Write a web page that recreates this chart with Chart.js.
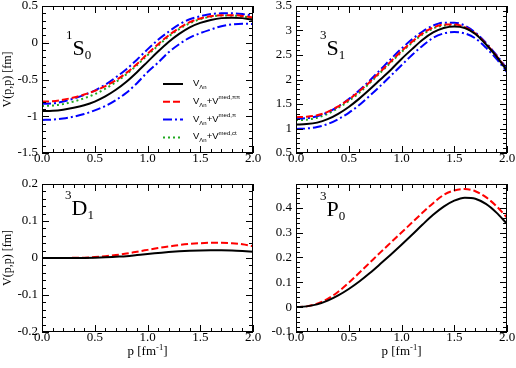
<!DOCTYPE html>
<html>
<head>
<meta charset="utf-8">
<script src="https://cdn.jsdelivr.net/npm/chart.js@4/dist/chart.umd.min.js"></script>
<style>
  html, body { margin: 0; padding: 0; background: #fff; }
  #wrap { position: relative; width: 516px; height: 368px; }
  canvas { position: absolute; left: 0; top: 0; }
</style>
</head>
<body>
<div id="wrap">
  <canvas id="c1" width="516" height="368"></canvas>
  <canvas id="c2" width="516" height="368"></canvas>
  <canvas id="c3" width="516" height="368"></canvas>
  <canvas id="c4" width="516" height="368"></canvas>
</div>
<script>
// momentum grid p [fm^-1]
const pValues = [0.0, 0.1, 0.2, 0.3, 0.4, 0.5, 0.6, 0.7, 0.8, 0.9, 1.0,
                 1.1, 1.2, 1.3, 1.4, 1.5, 1.6, 1.7, 1.8, 1.9, 2.0];

// 1S0
const s0Bare = [-0.93, -0.925, -0.91, -0.885, -0.85, -0.80, -0.73, -0.64, -0.53, -0.40, -0.26,
                -0.12, 0.01, 0.12, 0.21, 0.27, 0.31, 0.335, 0.34, 0.335, 0.31];
const s0PiPi = [-0.80, -0.795, -0.775, -0.745, -0.705, -0.655, -0.59, -0.51, -0.41, -0.29, -0.15,
                -0.02, 0.10, 0.20, 0.28, 0.33, 0.36, 0.375, 0.375, 0.365, 0.34];
const s0Pi   = [-0.83, -0.825, -0.80, -0.76, -0.71, -0.65, -0.57, -0.47, -0.36, -0.23, -0.09,
                0.04, 0.15, 0.25, 0.32, 0.36, 0.39, 0.40, 0.40, 0.39, 0.37];
const s0PiB  = [-1.05, -1.045, -1.03, -1.005, -0.97, -0.92, -0.86, -0.78, -0.68, -0.55, -0.40,
                -0.27, -0.13, -0.02, 0.07, 0.13, 0.18, 0.225, 0.25, 0.26, 0.255];
const s0Ct   = [-0.86, -0.855, -0.835, -0.80, -0.755, -0.70, -0.625, -0.535, -0.43, -0.305, -0.17,
                -0.04, 0.085, 0.185, 0.265, 0.32, 0.355, 0.37, 0.37, 0.36, 0.335];

// 3S1
const s1Bare = [1.08, 1.09, 1.12, 1.19, 1.30, 1.44, 1.61, 1.80, 2.00, 2.20, 2.42,
                2.62, 2.81, 2.96, 3.05, 3.08, 3.05, 2.93, 2.72, 2.47, 2.18];
const s1PiPi = [1.23, 1.24, 1.27, 1.34, 1.45, 1.59, 1.76, 1.95, 2.16, 2.37, 2.58,
                2.77, 2.94, 3.06, 3.12, 3.12, 3.07, 2.94, 2.73, 2.48, 2.20];
const s1Pi   = [1.20, 1.21, 1.25, 1.33, 1.45, 1.60, 1.78, 1.98, 2.20, 2.42, 2.63,
                2.82, 2.98, 3.10, 3.16, 3.16, 3.10, 2.96, 2.75, 2.50, 2.22];
const s1PiB  = [0.99, 1.00, 1.03, 1.09, 1.19, 1.32, 1.48, 1.67, 1.87, 2.08, 2.29,
                2.50, 2.69, 2.85, 2.94, 2.97, 2.94, 2.84, 2.65, 2.42, 2.15];
const s1Ct   = [1.17, 1.18, 1.22, 1.30, 1.42, 1.56, 1.73, 1.93, 2.14, 2.35, 2.56,
                2.75, 2.92, 3.04, 3.10, 3.11, 3.06, 2.93, 2.72, 2.47, 2.19];

// 3D1
const d1Bare = [0, 0, 0, 0, 0.0003, 0.001, 0.002, 0.0035, 0.005, 0.008, 0.011,
                0.0135, 0.016, 0.018, 0.0195, 0.0205, 0.021, 0.021, 0.0205, 0.019, 0.017];
const d1PiPi = [0, 0, 0, 0.0005, 0.001, 0.0025, 0.005, 0.008, 0.012, 0.017, 0.022,
                0.027, 0.031, 0.035, 0.038, 0.040, 0.041, 0.041, 0.040, 0.037, 0.032];

// 3P0
const p0Bare = [0, 0.003, 0.011, 0.026, 0.047, 0.073, 0.103, 0.137, 0.174, 0.212, 0.251,
                0.291, 0.332, 0.371, 0.404, 0.428, 0.44, 0.436, 0.415, 0.38, 0.335];
const p0PiPi = [0, 0.003, 0.014, 0.033, 0.062, 0.098, 0.138, 0.179, 0.22, 0.26, 0.30,
                0.34, 0.38, 0.418, 0.451, 0.469, 0.475, 0.466, 0.442, 0.406, 0.36];

// x ticks and y ranges [min, max, major step, minor step]
const xRange = [0, 2, 0.5, 0.1];
const yRangeS0 = [-1.5, 0.5, 0.5, 0.1];
const yRangeS1 = [0.5, 3.5, 0.5, 0.1];
const yRangeD1 = [-0.2, 0.2, 0.1, 0.02];
const yRangeP0 = [-0.1, 0.495, 0.1, 0.02];

// legend entries: [text, size, baseline shift]
const legendLabels = [
  [['V', 9.5, 0], ['\u039bn', 6, 3]],
  [['V', 9.5, 0], ['\u039bn', 6, 3], ['+V', 9.5, 0], ['med,\u03c0\u03c0', 6, -4.5]],
  [['V', 9.5, 0], ['\u039bn', 6, 3], ['+V', 9.5, 0], ['med,\u03c0', 6, -4.5]],
  [['V', 9.5, 0], ['\u039bn', 6, 3], ['+V', 9.5, 0], ['med,ct', 6, -4.5]]
];

const SERIF = "'Liberation Serif', 'Times New Roman', serif";
const SANS = "'Liberation Sans', Arial, sans-serif";

const styles = {
  bare: { color: '#000000', dash: [] },
  pipi: { color: '#ff0000', dash: [7, 3] },
  pi:   { color: '#0000ff', dash: [9, 3, 2, 3] },
  ct:   { color: '#1fa81f', dash: [2, 3] }
};

function richText(ctx, x, y, parts, family, center) {
  let w = 0;
  parts.forEach(([t, s]) => { ctx.font = s + 'px ' + family; w += ctx.measureText(t).width; });
  let cx = center ? x - w / 2 : x;
  parts.forEach(([t, s, dy]) => {
    ctx.font = s + 'px ' + family;
    ctx.fillText(t, cx, y + (dy || 0));
    cx += ctx.measureText(t).width;
  });
}

function points(values) {
  return values.map((v, i) => ({ x: pValues[i], y: v }));
}

function line(values, style, inLegend) {
  return {
    data: points(values),
    borderColor: style.color,
    borderDash: style.dash,
    borderWidth: 2,
    pointRadius: 0,
    cubicInterpolationMode: 'monotone',
    fill: false,
    inLegend: inLegend
  };
}

function makePanel(id, area, yRange, datasets, tag, extras) {
  const [left, top, right, bottom] = area;

  const decor = {
    id: 'decor',
    afterDatasetsDraw(chart) {
      const ctx = chart.ctx;
      const a = chart.chartArea;
      const xs = chart.scales.x, ys = chart.scales.y;
      ctx.save();
      ctx.strokeStyle = '#000';
      ctx.lineWidth = 1;
      ctx.setLineDash([]);
      ctx.strokeRect(a.left + 0.5, a.top + 0.5, a.right - a.left - 1, a.bottom - a.top - 1);

      // inward ticks on all four sides
      ctx.beginPath();
      const xFirst = Math.ceil(xRange[0] / xRange[3] - 1e-6);
      const xLast = Math.floor(xRange[1] / xRange[3] + 1e-6);
      for (let i = xFirst; i <= xLast; i++) {
        const v = i * xRange[3];
        const major = Math.abs(v / xRange[2] - Math.round(v / xRange[2])) < 1e-6;
        const len = major ? 7 : 4;
        const px = Math.round(xs.getPixelForValue(v)) + 0.5;
        ctx.moveTo(px, a.bottom); ctx.lineTo(px, a.bottom - len);
        ctx.moveTo(px, a.top); ctx.lineTo(px, a.top + len);
      }
      const yFirst = Math.ceil(yRange[0] / yRange[3] - 1e-6);
      const yLast = Math.floor(yRange[1] / yRange[3] + 1e-6);
      for (let i = yFirst; i <= yLast; i++) {
        const v = i * yRange[3];
        const major = Math.abs(v / yRange[2] - Math.round(v / yRange[2])) < 1e-6;
        const len = major ? 7 : 4;
        const py = Math.round(ys.getPixelForValue(v)) + 0.5;
        ctx.moveTo(a.left, py); ctx.lineTo(a.left + len, py);
        ctx.moveTo(a.right, py); ctx.lineTo(a.right - len, py);
      }
      ctx.stroke();

      // partial-wave tag
      ctx.fillStyle = '#000';
      ctx.textBaseline = 'alphabetic';
      ctx.textAlign = 'left';
      richText(ctx, a.left + tag.dx, a.top + tag.dy, tag.parts, SERIF, false);

      // x axis title with superscript
      if (extras.xTitle) {
        richText(ctx, (a.left + a.right) / 2, 355,
          [['p [fm', 13, 0], ['-1', 8.5, -5.5], [']', 13, 0]], SERIF, true);
      }

      // legend
      if (extras.legend) {
        const shown = chart.data.datasets.filter(d => d.inLegend);
        shown.forEach((d, i) => {
          const y = 84 + i * 17.8;
          ctx.beginPath();
          ctx.strokeStyle = d.borderColor;
          ctx.lineWidth = 2;
          ctx.setLineDash(d.borderDash);
          ctx.moveTo(163, y);
          ctx.lineTo(183, y);
          ctx.stroke();
          ctx.fillStyle = '#000';
          richText(ctx, 193, y + 2, legendLabels[i], SANS, false);
        });
      }
      ctx.restore();
    }
  };

  const step = yRange[2];
  return new Chart(document.getElementById(id), {
    type: 'line',
    data: { datasets: datasets },
    options: {
      responsive: false,
      animation: false,
      events: [],
      layout: {
        autoPadding: false,
        padding: { left: 0, top: top, right: 516 - right, bottom: 368 - bottom - 20 }
      },
      plugins: { legend: { display: false }, tooltip: { enabled: false } },
      scales: {
        x: {
          type: 'linear',
          min: xRange[0], max: xRange[1],
          ticks: {
            stepSize: xRange[2], padding: -1, color: '#000',
            font: { family: SERIF, size: 13, lineHeight: 1 },
            callback: v => v.toFixed(1)
          },
          grid: { display: false, drawTicks: false },
          border: { display: false },
          afterFit: s => { s.height = 20; s.paddingLeft = 0; s.paddingRight = 0; }
        },
        y: {
          type: 'linear',
          min: yRange[0], max: yRange[1],
          ticks: {
            stepSize: step, padding: 4, color: '#000',
            font: { family: SERIF, size: 13 },
            callback: v => {
              const r = Math.round(v * 1000) / 1000;
              if (Math.abs(r / step - Math.round(r / step)) > 1e-6) return null;
              return String(r);
            }
          },
          title: {
            display: extras.yTitle, text: 'V(p,p) [fm]', color: '#000',
            font: { family: SERIF, size: 12 }, padding: { top: 1, bottom: 0 }
          },
          grid: { display: false, drawTicks: false },
          border: { display: false },
          afterFit: s => { s.width = left; s.paddingTop = 0; s.paddingBottom = 0; }
        }
      }
    },
    plugins: [decor]
  });
}

makePanel('c1', [42, 6, 253, 153], yRangeS0, [
  line(s0Bare, styles.bare, true),
  line(s0PiPi, styles.pipi, true),
  line(s0Pi, styles.pi, true),
  line(s0Ct, styles.ct, true),
  line(s0PiB, styles.pi, false)
], { dx: 24, dy: 49, parts: [['1', 13, -16], ['S', 22, 0], ['0', 13, 4]] },
   { yTitle: true, xTitle: false, legend: true });

makePanel('c2', [296, 6, 507, 153], yRangeS1, [
  line(s1Bare, styles.bare, true),
  line(s1PiPi, styles.pipi, true),
  line(s1Pi, styles.pi, true),
  line(s1Ct, styles.ct, true),
  line(s1PiB, styles.pi, false)
], { dx: 24, dy: 49, parts: [['3', 13, -16], ['S', 22, 0], ['1', 13, 4]] },
   { yTitle: false, xTitle: false, legend: false });

makePanel('c3', [42, 184, 253, 332], yRangeD1, [
  line(d1Bare, styles.bare, true),
  line(d1PiPi, styles.pipi, true)
], { dx: 23, dy: 31, parts: [['3', 13, -16], ['D', 22, 0], ['1', 13, 4]] },
   { yTitle: true, xTitle: true, legend: false });

makePanel('c4', [296, 184, 507, 332], yRangeP0, [
  line(p0Bare, styles.bare, true),
  line(p0PiPi, styles.pipi, true)
], { dx: 24, dy: 32, parts: [['3', 13, -16], ['P', 22, 0], ['0', 13, 4]] },
   { yTitle: false, xTitle: true, legend: false });
</script>
</body>
</html>
